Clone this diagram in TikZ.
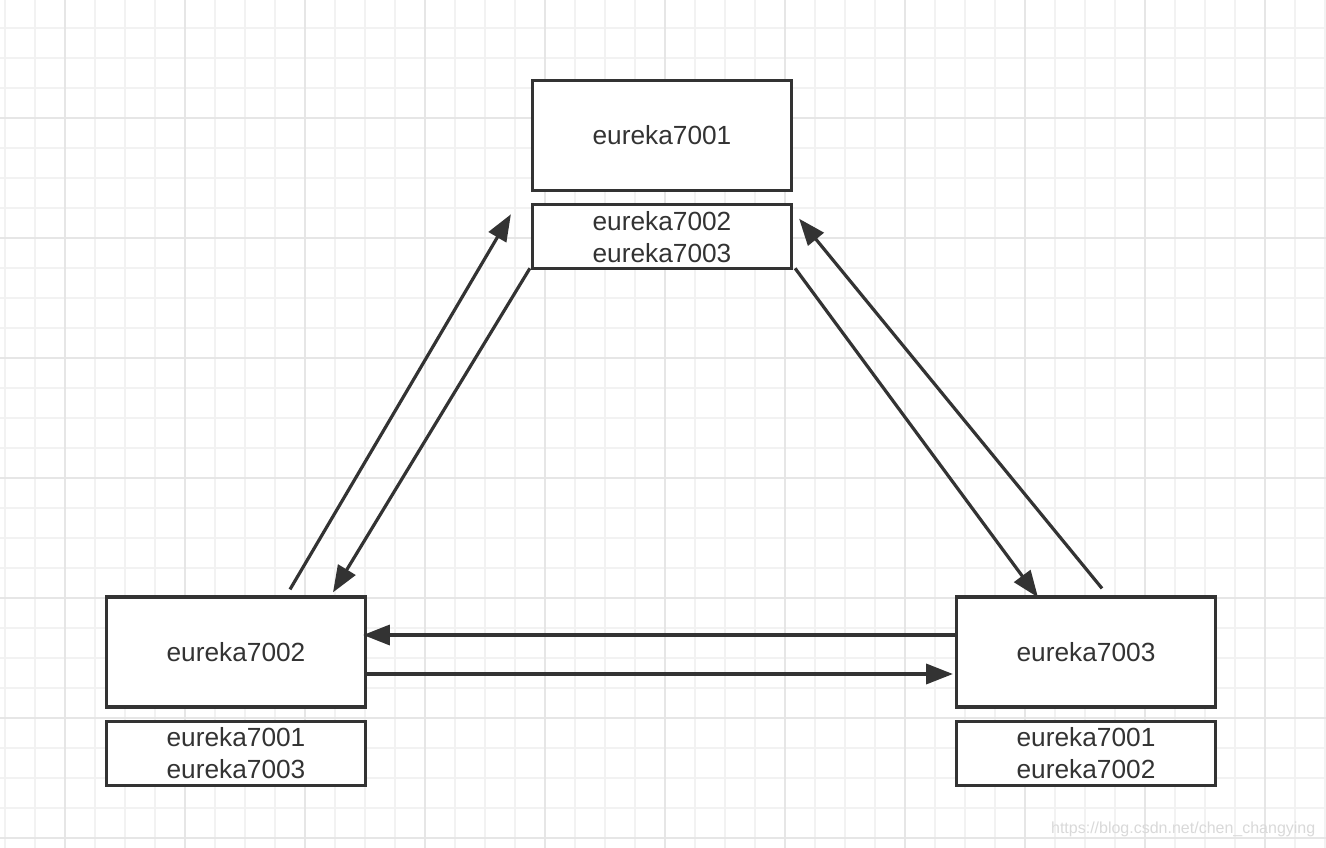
\documentclass[tikz,border=0pt]{standalone}
\usepackage{fontspec}
\setmainfont{Liberation Sans}
\usetikzlibrary{arrows.meta, calc, positioning}
\definecolor{ink}{HTML}{333333}
\definecolor{gridminor}{HTML}{F2F2F2}
\definecolor{gridmajor}{HTML}{E6E6E6}
\tikzstyle{server} = [rectangle, minimum width=194.25pt, minimum
height=82.5pt, text centered, draw=ink, line width=2.4pt, fill=white, text=ink,
font=\fontsize{19.7}{24}\selectfont]
\tikzstyle{peers} = [rectangle, minimum width=194.25pt, minimum
height=48pt, text centered, align=center, draw=ink, line width=2.4pt, fill=white, text=ink,
font=\fontsize{19.7}{24}\selectfont]
\tikzstyle{arrow} = [draw=ink, line width=2.4pt, -{Triangle[length=20pt,width=15pt]}]
\tikzstyle{gridline} = [draw=gridminor, line width=1.3pt]
\tikzstyle{gridbold} = [draw=gridmajor, line width=1.3pt]

\begin{document}
\begin{tikzpicture}[x=0.75pt, y=-0.75pt]
      \useasboundingbox (0,0) rectangle (1326,848);
      \fill[white] (0,0) rectangle (1326,848);
      % grid
      \foreach \gx in {5,35,...,1325} \draw[gridline] (\gx,0) -- (\gx,848);
      \foreach \gy in {28,58,...,838} \draw[gridline] (0,\gy) -- (1326,\gy);
      \foreach \gx in {65,185,...,1325} \draw[gridbold] (\gx,0) -- (\gx,848);
      \foreach \gy in {118,238,...,838} \draw[gridbold] (0,\gy) -- (1326,\gy);

      \node (e1) [server] at (662,135.5) {eureka7001};
      \node (e1list) [peers, below=8.25pt of e1] {eureka7002 \\ eureka7003};

      \node (e2) [server] at (236,652) {eureka7002};
      \node (e2list) [peers, below=8.25pt of e2] {eureka7001 \\ eureka7003};

      \node (e3) [server] at (1086,652) {eureka7003};
      \node (e3list) [peers, below=8.25pt of e3] {eureka7001 \\ eureka7002};

      \draw [arrow] ($(e2.north)+(54,-6)$) -- ($(e1list.south west)+(-20,-56)$);
      \draw [arrow] ($(e1list.south west)+(-1,-2)$) -- ($(e2.north)+(97,-3)$);
      \draw [arrow] ($(e1list.south east)+(2,-2)$) -- ($(e3.north)+(-48,2)$);
      \draw [arrow] ($(e3.north)+(16,-7)$) -- ($(e1list.east)+(6,-18)$);
      \draw [arrow] ($(e3.west)+(0,-17)$) -- ($(e2.east)+(-4,-17)$);
      \draw [arrow] ($(e2.east)+(0,22)$) -- ($(e3.west)+(-2,22)$);

      \node (mark) [anchor=east, text=gray!30, font=\fontsize{12}{14}\selectfont] at (1320,829) {https://blog.csdn.net/chen\_changying};
    \end{tikzpicture}
\end{document}
